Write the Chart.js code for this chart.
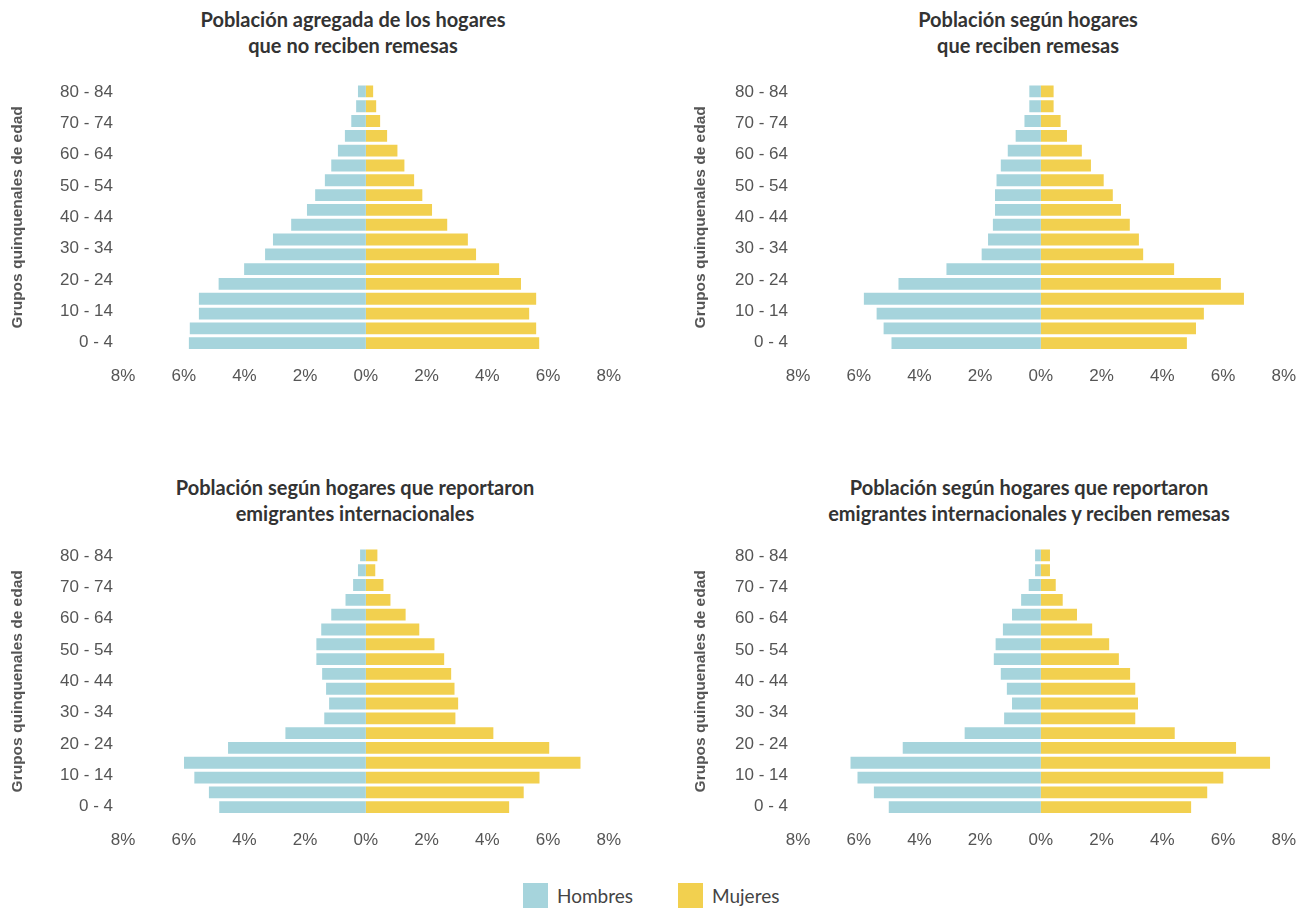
<!DOCTYPE html>
<html lang="es">
<head>
<meta charset="utf-8">
<title>Pirámides de población</title>
<script src="https://cdn.jsdelivr.net/npm/chart.js@4.4.1/dist/chart.umd.min.js"></script>
<style>
  body { margin: 0; width: 1308px; height: 908px; overflow: hidden; position: relative; background: #fff; font-family: Lato, "Open Sans", sans-serif; }
  .title { position: absolute; width: 660px; text-align: center; font-weight: 700; font-size: 20px; line-height: 26px; color: #333; }
  .box { position: absolute; width: 637px; height: 343px; }
  .legend { position: absolute; top: 883px; left: 0; width: 1308px; height: 25px; }
  .legend span { position: absolute; top: 0; font-size: 19px; line-height: 25px; color: #444; }
  .legend i { position: absolute; top: 0; width: 25px; height: 25px; }
</style>
</head>
<body>

<div class="title" style="left:23px; top:6px">Población agregada de los hogares<br>que no reciben remesas</div>
<div class="title" style="left:698px; top:6px">Población según hogares<br>que reciben remesas</div>
<div class="title" style="left:25px; top:474px">Población según hogares que reportaron<br>emigrantes internacionales</div>
<div class="title" style="left:699px; top:474px">Población según hogares que reportaron<br>emigrantes internacionales y reciben remesas</div>

<div class="box" style="left:0; top:60px"><canvas id="c1"></canvas></div>
<div class="box" style="left:675px; top:60px"><canvas id="c2"></canvas></div>
<div class="box" style="left:0; top:524px"><canvas id="c3"></canvas></div>
<div class="box" style="left:675px; top:524px"><canvas id="c4"></canvas></div>

<div class="legend">
  <i style="left:523px; background:#a6d4dc"></i><span style="left:557px">Hombres</span>
  <i style="left:678px; background:#f2d04f"></i><span style="left:712px">Mujeres</span>
</div>

<script>
// age groups of the bars, youngest first
const ageGroups = ["0 - 4", "5 - 9", "10 - 14", "15 - 19", "20 - 24", "25 - 29", "30 - 34", "35 - 39",
  "40 - 44", "45 - 49", "50 - 54", "55 - 59", "60 - 64", "65 - 69", "70 - 74", "75 - 79", "80 - 84", "85 y más"];
// labels on the left axis (every other one is shown)
const ageTicks = ["0 - 4", "5 - 9", "10 - 14", "15 - 19", "20 - 24", "25 - 29", "30 - 34", "35 - 39",
  "40 - 44", "45 - 49", "50 - 54", "55 - 59", "60 - 64", "65 - 69", "70 - 74", "75 - 79", "80 - 84"];

// % of population, youngest first
const noRemesasHombres = [5.83, 5.80, 5.50, 5.50, 4.85, 4.01, 3.32, 3.06, 2.46, 1.94, 1.67, 1.35, 1.14, 0.92, 0.69, 0.48, 0.32, 0.26];
const noRemesasMujeres = [5.71, 5.61, 5.38, 5.61, 5.11, 4.39, 3.63, 3.36, 2.68, 2.18, 1.86, 1.59, 1.27, 1.04, 0.70, 0.47, 0.34, 0.24];

const remesasHombres = [4.92, 5.18, 5.41, 5.83, 4.69, 3.11, 1.95, 1.74, 1.58, 1.51, 1.51, 1.46, 1.32, 1.09, 0.83, 0.54, 0.38, 0.38];
const remesasMujeres = [4.81, 5.11, 5.37, 6.69, 5.93, 4.39, 3.37, 3.23, 2.93, 2.64, 2.37, 2.07, 1.65, 1.35, 0.86, 0.65, 0.42, 0.42];

const emigrantesHombres = [4.83, 5.17, 5.65, 5.99, 4.54, 2.65, 1.37, 1.21, 1.31, 1.44, 1.63, 1.63, 1.47, 1.14, 0.67, 0.42, 0.26, 0.19];
const emigrantesMujeres = [4.72, 5.20, 5.72, 7.07, 6.04, 4.20, 2.95, 3.04, 2.92, 2.81, 2.58, 2.26, 1.76, 1.31, 0.81, 0.58, 0.31, 0.38];

const emigRemesasHombres = [5.01, 5.50, 6.04, 6.27, 4.55, 2.51, 1.21, 0.95, 1.12, 1.32, 1.55, 1.49, 1.25, 0.95, 0.65, 0.40, 0.19, 0.19];
const emigRemesasMujeres = [4.95, 5.48, 6.01, 7.55, 6.43, 4.41, 3.11, 3.20, 3.11, 2.94, 2.57, 2.25, 1.69, 1.19, 0.72, 0.49, 0.30, 0.30];

const COLOR_H = "#a6d4dc";
const COLOR_M = "#f2d04f";
const tickFont = { family: "'Liberation Sans', Arial, sans-serif", size: 17 };

function pyramid(id, hombres, mujeres, titlePad) {
  new Chart(document.getElementById(id), {
    type: "bar",
    data: {
      labels: ageGroups,
      datasets: [
        { label: "Hombres", data: hombres.map(v => -v), backgroundColor: COLOR_H },
        { label: "Mujeres", data: mujeres, backgroundColor: COLOR_M }
      ]
    },
    options: {
      indexAxis: "y",
      responsive: true,
      maintainAspectRatio: false,
      animation: false,
      categoryPercentage: 0.8,
      barPercentage: 1,
      layout: { padding: { top: 24, right: 17, bottom: 0, left: 0 } },
      plugins: {
        legend: { display: false },
        tooltip: {
          callbacks: {
            label: c => c.dataset.label + ": " + Math.abs(c.raw).toFixed(2) + "%"
          }
        }
      },
      scales: {
        x: {
          stacked: true,
          min: -8,
          max: 8,
          grid: { display: false, drawTicks: false },
          border: { display: false },
          ticks: {
            stepSize: 2,
            padding: 16,
            color: "#555",
            font: tickFont,
            callback: v => Math.abs(v) + "%"
          }
        },
        y: {
          stacked: true,
          reverse: true,
          display: false
        },
        edad: {
          type: "category",
          labels: ageTicks,
          position: "left",
          reverse: true,
          offset: true,
          grid: { display: false, drawTicks: false },
          border: { display: false },
          afterFit: s => { s.width = 123; },
          ticks: {
            autoSkip: false,
            padding: 10,
            color: "#555",
            font: tickFont,
            callback: (v, i) => (i % 2 ? "" : ageTicks[i])
          },
          title: {
            display: true,
            text: "Grupos quinquenales de edad",
            color: "#555",
            font: { family: "'Liberation Sans', Arial, sans-serif", size: 15.5, weight: "bold" },
            padding: { top: titlePad, bottom: 0 }
          }
        }
      }
    }
  });
}

pyramid("c1", noRemesasHombres, noRemesasMujeres, 8);
pyramid("c2", remesasHombres, remesasMujeres, 16);
pyramid("c3", emigrantesHombres, emigrantesMujeres, 8);
pyramid("c4", emigRemesasHombres, emigRemesasMujeres, 16);
</script>
</body>
</html>
